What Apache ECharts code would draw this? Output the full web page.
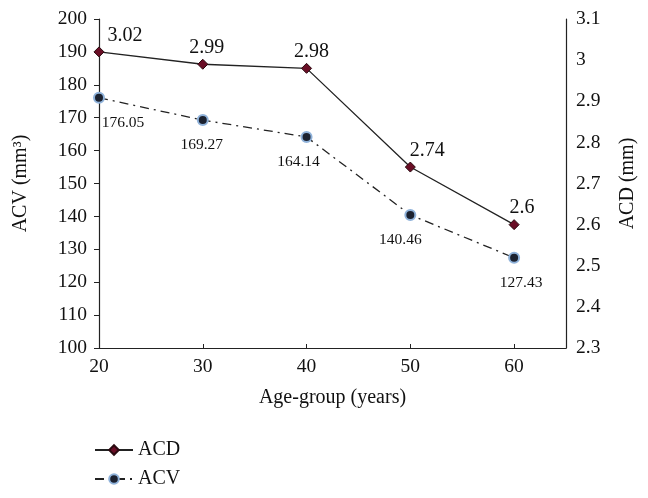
<!DOCTYPE html>
<html>
<head>
<meta charset="utf-8">
<script src="https://cdn.jsdelivr.net/npm/echarts@6/dist/echarts.min.js"></script>
<style>
  html, body { margin: 0; padding: 0; background: #fff; }
  #graphics { width: 648px; height: 498px; }
</style>
</head>
<body>
<div id="graphics"></div>
<script>
// data
const ages = [20, 30, 40, 50, 60];
const acd = [3.02, 2.99, 2.98, 2.74, 2.6];
const acv = [176.05, 169.27, 164.14, 140.46, 127.43];

// label nudges so the numbers sit where the original puts them
const acdShift = [[26, 0], [4, 0], [5, 0], [17, 0], [8, 0]];
const acvShift = [[24, 0], [-1, 0], [-8, 0], [-10, 0], [7, 0]];

const font = 'Liberation Serif';

var myChart = echarts.init(document.getElementById('graphics'));

var option = {
    backgroundColor: '#fff',
    animation: false,
    textStyle: { fontFamily: font },
    grid: { left: 99, right: 82, top: 19, bottom: 150 },
    legend: {
        orient: 'vertical',
        left: 89,
        top: 435,
        itemWidth: 38,
        itemHeight: 12,
        itemGap: 9,
        textStyle: { fontFamily: font, fontSize: 20, color: '#111' },
        data: ['ACD', 'ACV']
    },
    xAxis: {
        type: 'value',
        min: 20,
        max: 65,
        interval: 10,
        name: 'Age-group (years)',
        nameLocation: 'middle',
        nameGap: 40,
        nameTextStyle: { fontFamily: font, fontSize: 20, color: '#111' },
        splitLine: { show: false },
        axisLine: { lineStyle: { color: '#222', width: 1.2 } },
        axisTick: { inside: true, length: 4, customValues: ages, lineStyle: { color: '#222' } },
        axisLabel: {
            customValues: ages,
            margin: 9,
            fontFamily: font, fontSize: 19.5, color: '#111'
        }
    },
    yAxis: [{
        type: 'value',
        min: 100,
        max: 200,
        interval: 10,
        name: 'ACV (mm³)',
        nameLocation: 'middle',
        nameRotate: 90,
        nameGap: 68,
        nameTextStyle: { fontFamily: font, fontSize: 20, color: '#111' },
        splitLine: { show: false },
        axisLine: { show: true, lineStyle: { color: '#222', width: 1.2 } },
        axisTick: { show: true, length: 5, lineStyle: { color: '#222' } },
        axisLabel: { margin: 12, fontFamily: font, fontSize: 19.5, color: '#111' }
    }, {
        type: 'value',
        position: 'right',
        min: 2.3,
        max: 3.1,
        interval: 0.1,
        name: 'ACD (mm)',
        nameLocation: 'middle',
        nameRotate: 90,
        nameGap: 52,
        nameTextStyle: { fontFamily: font, fontSize: 20, color: '#111' },
        splitLine: { show: false },
        axisLine: { show: true, lineStyle: { color: '#222', width: 1.2 } },
        axisTick: { show: false },
        axisLabel: {
            margin: 10,
            fontFamily: font, fontSize: 19.5, color: '#111',
            formatter: function (v) { return String(Math.round(v * 10) / 10); }
        }
    }],
    series: [{
        name: 'ACD',
        type: 'line',
        yAxisIndex: 1,
        symbol: 'diamond',
        symbolSize: 10,
        itemStyle: { color: '#6a0e26', borderColor: '#2a0a10', borderWidth: 1 },
        lineStyle: { color: '#222', width: 1.3 },
        data: ages.map(function (a, i) {
            return { value: [a, acd[i]], label: { offset: acdShift[i] } };
        }),
        label: {
            show: true,
            position: 'top',
            distance: 1,
            fontFamily: font, fontSize: 20, color: '#111',
            formatter: function (p) { return String(p.value[1]); }
        }
    }, {
        name: 'ACV',
        type: 'line',
        yAxisIndex: 0,
        symbol: 'circle',
        symbolSize: 10,
        itemStyle: { color: '#1c2230', borderColor: '#8fb2da', borderWidth: 2 },
        lineStyle: { color: '#222', width: 1.3, type: [9, 5, 2, 5] },
        data: ages.map(function (a, i) {
            return { value: [a, acv[i]], label: { offset: acvShift[i] } };
        }),
        label: {
            show: true,
            position: 'bottom',
            distance: 11,
            fontFamily: font, fontSize: 15.5, color: '#111',
            formatter: function (p) { return String(p.value[1]); }
        }
    }]
};

myChart.setOption(option);
</script>
</body>
</html>
